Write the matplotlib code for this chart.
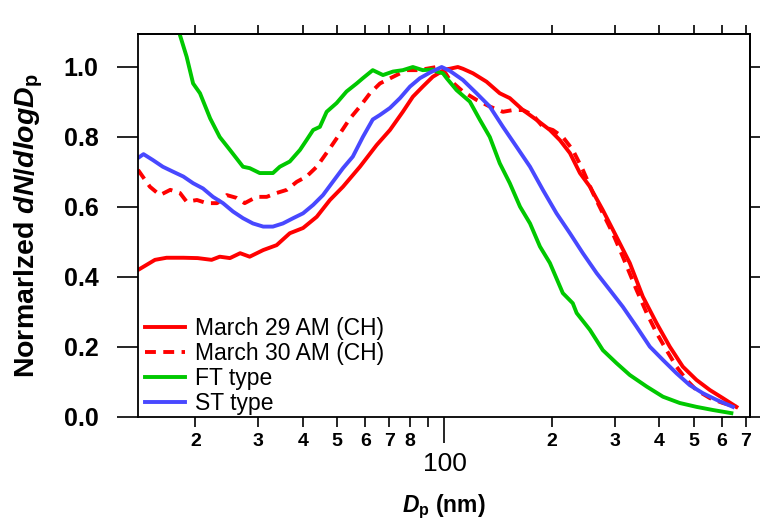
import matplotlib
matplotlib.use("Agg")
import matplotlib.pyplot as plt
from matplotlib.ticker import FixedLocator, FuncFormatter, NullFormatter

plt.rcParams['font.family'] = ['Liberation Sans', 'DejaVu Sans']
plt.rcParams['mathtext.fontset'] = 'custom'
plt.rcParams['mathtext.rm'] = 'Liberation Sans:bold'
plt.rcParams['mathtext.it'] = 'Liberation Sans:bold:italic'
plt.rcParams['mathtext.bf'] = 'Liberation Sans:bold'

# Particle diameter (nm) and normalized size distributions
dp_mar29 = [13.8, 15.4, 16.6, 18.5, 20.3, 22.2, 23.4, 25.0, 26.7, 28.4, 31.0, 33.8,
            36.8, 40.1, 43.8, 47.7, 51.9, 57.9, 64.5, 70.3, 76.4, 81.5, 86.9, 92.7,
            100.3, 103.5, 109.0, 112.6, 120.2, 131.2, 142.9, 152.5, 166.0, 181.3,
            197.6, 210.8, 224.9, 239.9, 255.9, 278.2, 303.8, 331.1, 360.2, 393.7,
            428.7, 466.3, 509.3, 555.6, 603.9, 659.7]
n_mar29 = [0.42, 0.449, 0.455, 0.455, 0.454, 0.449, 0.458, 0.454, 0.468, 0.458, 0.477,
           0.491, 0.525, 0.540, 0.572, 0.620, 0.658, 0.715, 0.777, 0.820, 0.872, 0.915,
           0.944, 0.972, 0.993, 0.995, 1.0, 0.995, 0.982, 0.958, 0.925, 0.911, 0.877,
           0.849, 0.820, 0.791, 0.754, 0.697, 0.658, 0.591, 0.515, 0.440, 0.344, 0.268,
           0.201, 0.144, 0.106, 0.077, 0.054, 0.029]

dp_mar30 = [13.8, 14.9, 15.9, 17.0, 18.1, 18.9, 20.2, 21.5, 23.0, 24.5, 26.1, 27.5,
            29.7, 31.7, 33.8, 36.1, 38.5, 41.0, 43.8, 45.6, 47.7, 50.9, 54.3, 57.9,
            61.8, 65.9, 68.9, 73.4, 78.3, 83.5, 89.1, 95.0, 100.3, 103.5, 112.6, 123.0,
            134.0, 145.9, 155.6, 166.0, 177.0, 188.8, 201.4, 214.8, 229.1, 244.5, 260.9,
            278.2, 296.6, 316.5, 345.9, 369.3, 393.7, 419.8, 447.7, 477.6, 509.3, 555.6,
            603.9, 659.7]
n_mar30 = [0.706, 0.658, 0.634, 0.649, 0.64, 0.615, 0.62, 0.611, 0.611, 0.634, 0.626,
           0.611, 0.629, 0.629, 0.64, 0.649, 0.672, 0.687, 0.715, 0.74, 0.768, 0.81,
           0.853, 0.887, 0.925, 0.953, 0.963, 0.977, 0.991, 0.991, 0.995, 1.0, 0.985,
           0.963, 0.93, 0.906, 0.887, 0.872, 0.877, 0.877, 0.863, 0.829, 0.82, 0.80,
           0.763, 0.706, 0.64, 0.582, 0.525, 0.458, 0.363, 0.297, 0.24, 0.191, 0.144,
           0.106, 0.077, 0.054, 0.04, 0.029]

dp_ft = [13.8, 15.9, 18.1, 18.9, 19.7, 20.6, 22.0, 23.4, 25.0, 27.2, 28.4, 30.3, 33.0,
         34.5, 36.8, 39.3, 41.0, 42.8, 44.7, 46.7, 49.8, 53.1, 56.7, 59.0, 62.9, 67.2,
         71.7, 76.4, 81.5, 86.9, 92.7, 95.0, 99.0, 101.4, 108.1, 117.8, 125.7, 134.0,
         142.9, 152.5, 162.9, 173.8, 185.3, 197.6, 214.8, 229.1, 234.9, 255.9, 278.2,
         303.8, 331.1, 369.3, 410.2, 457.3, 509.3, 566.3, 638.4]
n_ft = [1.5, 1.3, 1.091, 1.029, 0.953, 0.925, 0.853, 0.80, 0.763, 0.715, 0.711, 0.697,
        0.697, 0.715, 0.73, 0.763, 0.791, 0.82, 0.829, 0.872, 0.897, 0.93, 0.953, 0.968,
        0.991, 0.977, 0.987, 0.991, 1.0, 0.991, 0.993, 0.987, 0.982, 0.968, 0.934, 0.901,
        0.849, 0.80, 0.725, 0.668, 0.601, 0.553, 0.487, 0.44, 0.354, 0.325, 0.297, 0.249,
        0.191, 0.154, 0.12, 0.087, 0.058, 0.04, 0.029, 0.02, 0.011]

dp_st = [13.8, 14.3, 15.2, 16.2, 17.3, 18.5, 19.7, 21.0, 22.4, 23.9, 25.5, 27.2, 29.0,
         31.0, 33.0, 35.2, 37.6, 40.1, 42.8, 45.6, 48.6, 51.9, 55.3, 59.0, 62.9, 65.9,
         70.3, 75.0, 80.0, 85.3, 91.0, 98.2, 103.5, 112.6, 123.0, 134.0, 145.9, 159.3,
         173.8, 188.8, 206.2, 224.9, 244.5, 267.3, 291.0, 316.5, 345.9, 376.9, 410.2,
         447.7, 487.9, 530.9, 580.0, 644.6]
n_st = [0.74, 0.751, 0.734, 0.715, 0.701, 0.687, 0.668, 0.653, 0.629, 0.611, 0.587,
        0.568, 0.553, 0.544, 0.544, 0.553, 0.568, 0.582, 0.606, 0.634, 0.672, 0.711,
        0.744, 0.80, 0.85, 0.863, 0.883, 0.911, 0.944, 0.968, 0.984, 1.0, 0.989, 0.963,
        0.925, 0.887, 0.829, 0.772, 0.715, 0.649, 0.582, 0.525, 0.468, 0.411, 0.363,
        0.315, 0.258, 0.201, 0.163, 0.125, 0.091, 0.068, 0.049, 0.029]

labels = ["March 29 AM (CH)", "March 30 AM (CH)", "FT type", "ST type"]
x_minor_ticks = [20, 30, 40, 50, 60, 70, 80, 90, 200, 300, 400, 500, 600, 700]
x_major_ticks = [100]
y_ticks = [0.0, 0.2, 0.4, 0.6, 0.8, 1.0]


def leading_digit(v, pos):
    d = int(round(v / 10 ** (len(str(int(round(v)))) - 1)))
    return "" if d == 9 else "%d" % d


W, H = 763, 525
fig = plt.figure(figsize=(W / 100, H / 100), dpi=100)
L, R, T, B = 138, 750, 34, 417
ax = fig.add_axes([L / W, 1 - B / H, (R - L) / W, (B - T) / H])

lw = 2.8
ax.plot(dp_mar29, n_mar29, color='#FF0000', lw=lw, label=labels[0])
ax.plot(dp_mar30, n_mar30, color='#FF0000', lw=lw, ls=(0, (2.8, 1.9)), label=labels[1])
ax.plot(dp_ft, n_ft, color='#00C800', lw=lw, label=labels[2])
ax.plot(dp_st, n_st, color='#4848FF', lw=lw, label=labels[3])

ax.set_xscale('log')
ax.set_xlim(13.8, 720)
ax.set_ylim(0, (B - T) / 350)

for s in ax.spines.values():
    s.set_linewidth(1.3)

# bottom axis: decade label "100" set lower, leading digits for the other ticks
ax.xaxis.set_major_locator(FixedLocator(x_major_ticks))
ax.xaxis.set_minor_locator(FixedLocator(x_minor_ticks))
ax.xaxis.set_major_formatter(FuncFormatter(lambda v, p: "%d" % v))
ax.xaxis.set_minor_formatter(FuncFormatter(leading_digit))
ax.tick_params(axis='x', which='major', direction='out', length=19, width=1.2,
               pad=6.5, labelsize=19)
ax.tick_params(axis='x', which='minor', direction='out', length=7.5, width=1.2,
               pad=4, labelsize=14)
for t in ax.get_xticklabels(minor=True):
    t.set_fontweight('bold')

ax.yaxis.set_major_locator(FixedLocator(y_ticks))
ax.yaxis.set_major_formatter(FuncFormatter(lambda v, p: "%.1f" % v))
ax.tick_params(axis='y', which='major', direction='out', length=15, width=1.2,
               pad=13.5, labelsize=18)
for t in ax.get_yticklabels():
    t.set_fontweight('bold')

# tick marks on the top and right edges of the frame
top = ax.secondary_xaxis('top')
top.xaxis.set_major_locator(FixedLocator(x_minor_ticks + x_major_ticks))
top.xaxis.set_minor_locator(FixedLocator([]))
top.xaxis.set_major_formatter(NullFormatter())
top.tick_params(axis='x', which='major', direction='out', length=6.5, width=1.2)
top.spines['top'].set_linewidth(1.3)

right = ax.secondary_yaxis('right')
right.yaxis.set_major_locator(FixedLocator(y_ticks))
right.yaxis.set_major_formatter(NullFormatter())
right.tick_params(axis='y', which='major', direction='out', length=7.5, width=1.2)
right.spines['right'].set_linewidth(1.3)

ax.set_xlabel(r"$D_\mathrm{p}$ (nm)", fontsize=16.5, fontweight='bold', va='center')
ax.xaxis.set_label_coords(0.5, (B - 507) / (B - T))
ax.set_ylabel(r"Normarlzed $dN/dlogD_\mathrm{p}$", fontsize=20.5, fontweight='bold',
              va='center', ha='center')
ax.yaxis.set_label_coords((29 - L) / (R - L), (B - 226) / (B - T))

leg = ax.legend(loc='lower left', bbox_to_anchor=((145 - L) / (R - L), 0.005),
                frameon=False, fontsize=16.5, borderpad=0, borderaxespad=0,
                handlelength=1.75, handletextpad=0.45, labelspacing=0.09)

fig.savefig("out.png", dpi=100)
